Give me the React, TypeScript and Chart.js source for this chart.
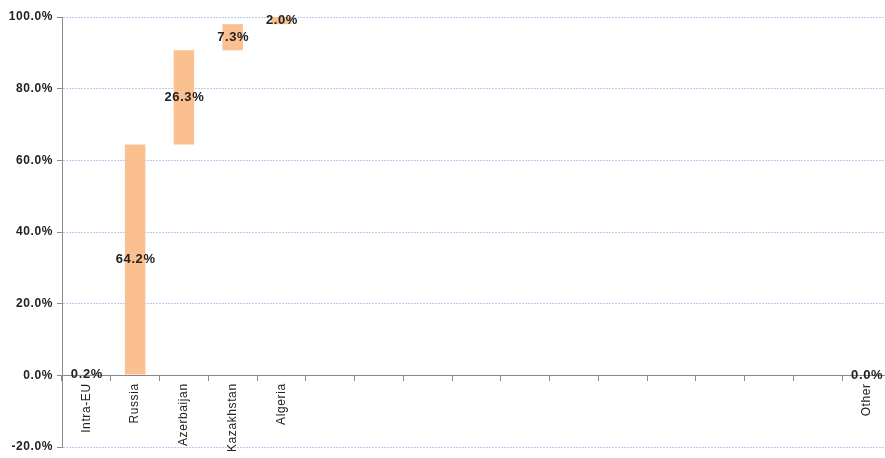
import React, { useEffect, useRef } from "react";
import { Chart, registerables } from "chart.js";

Chart.register(...registerables);

const categories = [
  "Intra-EU", "Russia", "Azerbaijan", "Kazakhstan", "Algeria",
  "", "", "", "", "", "", "", "", "", "", "",
  "Other",
];
const shares: (number | null)[] = [
  0.2, 64.2, 26.3, 7.3, 2.0,
  null, null, null, null, null, null, null, null, null, null, null,
  0.0,
];
const starts: (number | null)[] = [
  0, 0.2, 64.4, 90.7, 98.0,
  null, null, null, null, null, null, null, null, null, null, null,
  0,
];
const yMin = -20;
const yMax = 100;
const yStep = 20;

const BAR = "#FAC090";
const FONT = "'Liberation Sans', Arial, sans-serif";
const SPACING = "0.6px";

const spacingPlugin = {
  id: "spacing",
  beforeDraw(chart: any) {
    (chart.ctx as any).letterSpacing = SPACING;
  },
};

const labelPlugin = {
  id: "barLabels",
  afterDatasetsDraw(chart: any) {
    const ctx = chart.ctx;
    const meta = chart.getDatasetMeta(0);
    ctx.save();
    (ctx as any).letterSpacing = SPACING;
    ctx.font = `bold 13px ${FONT}`;
    ctx.fillStyle = "#222";
    ctx.textAlign = "center";
    ctx.textBaseline = "middle";
    meta.data.forEach((el: any, i: number) => {
      const v = shares[i];
      if (v === null || v === undefined) return;
      const y = (el.y + el.base) / 2;
      ctx.fillText(v.toFixed(1) + "%", el.x + 0.5, y);
    });
    ctx.restore();
  },
};

export default function App() {
  const ref = useRef<HTMLCanvasElement>(null);
  useEffect(() => {
    document.body.style.margin = "0";
    const data = shares.map((v, i) =>
      v === null || starts[i] === null ? null : [starts[i] as number, (starts[i] as number) + v]
    );
    const chart = new Chart(ref.current as HTMLCanvasElement, {
      type: "bar",
      data: {
        labels: categories,
        datasets: [
          {
            data: data as any,
            backgroundColor: BAR,
            borderWidth: 0,
            barPercentage: 0.42,
            categoryPercentage: 1,
          },
        ],
      },
      options: {
        responsive: false,
        animation: false,
        devicePixelRatio: 1,
        layout: { padding: { top: 17, bottom: 11, left: 0, right: 0 } },
        plugins: { legend: { display: false }, tooltip: { enabled: false }, title: { display: false } },
        scales: {
          x: {
            type: "category",
            position: { y: 0 } as any,
            offset: true,
            grid: {
              offset: true,
              drawOnChartArea: false,
              drawTicks: true,
              tickLength: 5,
              tickColor: "#8a8a8a",
            },
            border: { display: true, color: "#8a8a8a", width: 1 },
            ticks: {
              autoSkip: false,
              minRotation: 90,
              maxRotation: 90,
              padding: 3,
              color: "#222",
              font: { family: FONT, size: 12 },
            },
            afterFit: (s: any) => {
              s.paddingLeft = 0;
              s.paddingRight = 0;
            },
          },
          y: {
            min: yMin,
            max: yMax,
            ticks: {
              stepSize: yStep,
              padding: 4,
              color: "#222",
              font: { family: FONT, size: 12, weight: "bold" },
              callback: (v: any) => Number(v).toFixed(1) + "%",
            },
            grid: {
              color: (c: any) => (c.tick && c.tick.value === 0 ? "rgba(0,0,0,0)" : "#b6cbef"),
              lineWidth: 1,
              drawTicks: true,
              tickLength: 5,
              tickColor: "#8a8a8a",
              tickBorderDash: [],
            } as any,
            border: { display: true, color: "#8a8a8a", width: 1, dash: [2, 1] },
            afterFit: (s: any) => {
              s.width = 62;
              s.paddingTop = 0;
              s.paddingBottom = 0;
            },
          },
        },
      },
      plugins: [spacingPlugin, labelPlugin],
    });
    return () => chart.destroy();
  }, []);

  return (
    <div style={{ width: 885, height: 458, overflow: "hidden", position: "relative" }}>
      <canvas ref={ref} width={891} height={458} style={{ display: "block" }} />
    </div>
  );
}
